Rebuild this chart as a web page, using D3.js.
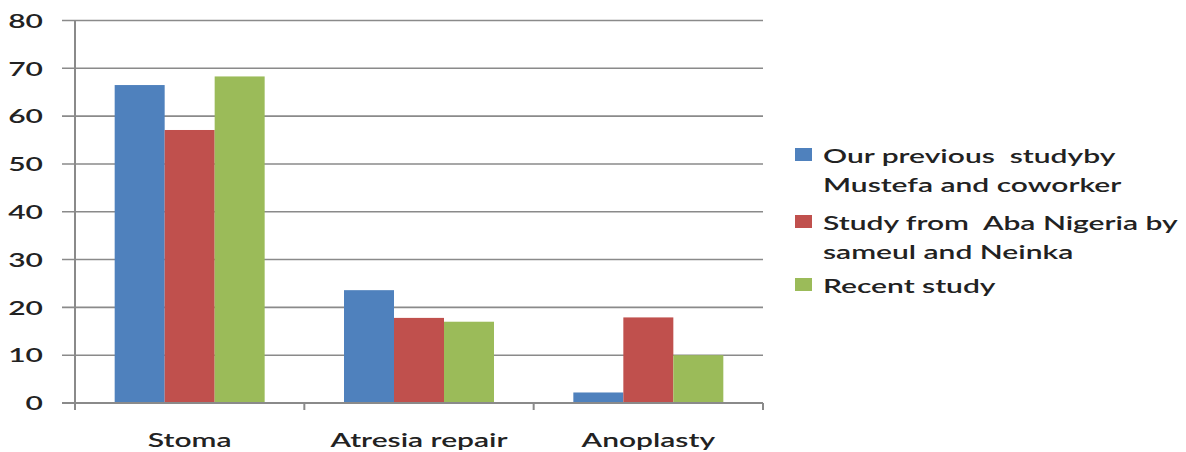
<!DOCTYPE html>
<html>
<head>
<meta charset="utf-8">
<script src="https://cdn.jsdelivr.net/npm/d3@7"></script>
<style>
  html, body { margin: 0; padding: 0; background: #fff; }
  svg text { font-family: Lato, "Open Sans", sans-serif; fill: #222; }
</style>
</head>
<body>
<svg id="chart" width="1186" height="452"></svg>
<script>
// Procedure categories and the three studies compared (percentages)
const categories = ["Stoma", "Atresia repair", "Anoplasty"];
const seriesNames = [
  ["Our previous  studyby", "Mustefa and coworker"],
  ["Study from  Aba Nigeria by", "sameul and Neinka"],
  ["Recent study"]
];
const previousStudy = [66.5, 23.6, 2.2];
const abaNigeriaStudy = [57.1, 17.8, 17.9];
const recentStudy = [68.3, 17.0, 10.0];
const yTicks = [0, 10, 20, 30, 40, 50, 60, 70, 80];

const colors = ["#4f81bd", "#c0504d", "#9bbb59"];
const series = [previousStudy, abaNigeriaStudy, recentStudy];

const svg = d3.select("#chart");
const plotLeft = 75, plotRight = 763, plotTop = 20.5, plotBottom = 403;
const sx = 1.5; // horizontal text stretch

const y = d3.scaleLinear().domain([0, 80]).range([plotBottom, plotTop]);
const x0 = d3.scaleBand().domain(categories).range([plotLeft, plotRight])
  .paddingInner(0.346).paddingOuter(0.173);
const x1 = d3.scaleBand().domain(d3.range(series.length)).range([0, x0.bandwidth()]);

const grid = "#8a8a8a";

// horizontal gridlines with left tick stubs
svg.append("g").selectAll("line").data(yTicks).join("line")
  .attr("x1", plotLeft - 13).attr("x2", plotRight)
  .attr("y1", d => y(d)).attr("y2", d => y(d))
  .attr("stroke", grid).attr("stroke-width", 1.6);

// y tick labels
svg.append("g").selectAll("text").data(yTicks).join("text")
  .attr("transform", d => `translate(43,${y(d)}) scale(${sx},1)`)
  .attr("text-anchor", "end").attr("dy", "0.36em")
  .style("font-size", "20px").style("font-weight", "600")
  .text(d => d);

// bars
const groups = svg.append("g").selectAll("g").data(categories).join("g")
  .attr("transform", c => `translate(${x0(c)},0)`);
groups.selectAll("rect")
  .data((c, i) => series.map((s, k) => ({ k, v: s[i] })))
  .join("rect")
  .attr("x", d => x1(d.k)).attr("width", x1.bandwidth())
  .attr("y", d => y(d.v)).attr("height", d => y(0) - y(d.v))
  .attr("fill", d => colors[d.k]);

// axis lines
svg.append("line").attr("x1", plotLeft).attr("x2", plotLeft).attr("y1", plotTop).attr("y2", plotBottom + 7)
  .attr("stroke", grid).attr("stroke-width", 2);
svg.append("line").attr("x1", plotLeft - 13).attr("x2", plotRight).attr("y1", plotBottom).attr("y2", plotBottom)
  .attr("stroke", grid).attr("stroke-width", 2);

// category boundary ticks
const step = x0.step();
const bounds = d3.range(categories.length + 1).map(i => plotLeft + i * step);
svg.append("g").selectAll("line").data(bounds).join("line")
  .attr("x1", d => d).attr("x2", d => d).attr("y1", plotBottom).attr("y2", plotBottom + 7)
  .attr("stroke", grid).attr("stroke-width", 2);

// category labels
svg.append("g").selectAll("text").data(categories).join("text")
  .attr("transform", c => `translate(${x0(c) + x0.bandwidth() / 2},447) scale(${sx},1)`)
  .attr("text-anchor", "middle")
  .style("font-size", "20px").style("font-weight", "600")
  .text(c => c);

// legend
const legendRows = [148, 215, 278];
const legend = svg.append("g").selectAll("g").data(seriesNames).join("g")
  .attr("transform", (d, i) => `translate(795,${legendRows[i]})`);
legend.append("rect").attr("width", 17).attr("height", 13).attr("fill", (d, i) => colors[i]);
legend.each(function (lines) {
  const g = d3.select(this);
  lines.forEach((t, j) => {
    g.append("text")
      .attr("transform", `translate(28,${15 + j * 29}) scale(${sx},1)`)
      .style("font-size", "20px").style("font-weight", "600")
      .style("white-space", "pre")
      .text(t);
  });
});
</script>
</body>
</html>
